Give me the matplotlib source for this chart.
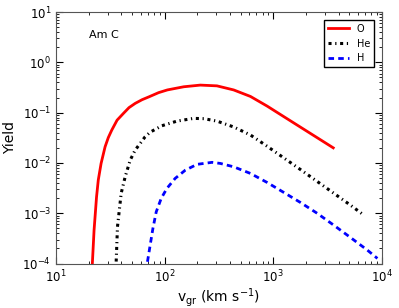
import matplotlib.pyplot as plt

# values (velocity in km/s, yield)
o_v = [21.6, 22.4, 23.6, 24.5, 26.0, 28.3, 30.3, 32.6, 36.5, 41.8, 47.0, 53.6, 62.0, 72.0, 88.0,
       106.0, 150.0, 213.0, 303.0, 432.0, 617.0, 879.0, 1250.0, 1782.0, 2540.0, 3570.0]
o_y = [1e-4, 4.6e-4, 2.1e-3, 4.6e-3, 9.8e-3, 0.021, 0.032, 0.045, 0.071, 0.097, 0.126, 0.153, 0.181, 0.207, 0.25,
       0.283, 0.327, 0.353, 0.341, 0.283, 0.21, 0.135, 0.0835, 0.0515, 0.0318, 0.02]

he_v = [35.8, 36.8, 39.8, 43.3, 48.2, 53.5, 59.6, 66.0, 73.6, 94.4, 130.0, 185.0, 230.0, 303.0,
        432.0, 617.0, 879.0, 1047.0, 1782.0, 2540.0, 3613.0, 5150.0, 6700.0]
he_y = [1.1e-4, 5.4e-4, 2.5e-3, 5.3e-3, 0.0114, 0.018, 0.0245, 0.033, 0.041, 0.055, 0.068, 0.077, 0.076, 0.068,
        0.052, 0.036, 0.0215, 0.0165, 0.0074, 0.0043, 0.0025, 0.00145, 0.00095]

h_v = [69.5, 73.6, 78.0, 83.7, 93.0, 105.0, 125.0, 155.0, 199.0, 273.0, 326.0, 432.0,
       617.0, 879.0, 1250.0, 1782.0, 2540.0, 3613.0, 5150.0, 7350.0, 9100.0]
h_y = [1.09e-4, 2.33e-4, 5.0e-4, 1.07e-3, 1.98e-3, 3.13e-3, 4.94e-3, 7.2e-3, 9.4e-3, 0.0103, 0.0098, 0.0084,
       6.2e-3, 4.1e-3, 2.6e-3, 1.64e-3, 1.0e-3, 5.8e-4, 3.3e-4, 1.86e-4, 1.27e-4]

fig = plt.figure(figsize=(3.99, 3.08), dpi=100)
ax = fig.add_axes([0.1404, 0.144, 0.8166, 0.817])

ax.plot(o_v, o_y, color='red', lw=2, label='O')
ax.plot(he_v, he_y, color='black', lw=2.2, dashes=(1, 1.2, 0.4, 1.2), label='He')
ax.plot(h_v, h_y, color='blue', lw=2, dashes=(2, 1.5), label='H')

ax.set_xscale('log')
ax.set_yscale('log')
ax.set_xlim(10, 1e4)
ax.set_ylim(1e-4, 10)

ax.tick_params(which='both', direction='in', top=True, right=True, labelsize=8.5)
ax.tick_params(which='major', length=5)
ax.tick_params(which='minor', length=2.5)
for s in ax.spines.values():
    s.set_color('#555555')

ax.set_ylabel('Yield', fontsize=10)
ax.set_xlabel(r'v$_{\rm gr}$ (km s$^{-1}$)', fontsize=10, labelpad=1)
ax.text(0.10, 0.93, 'Am C', transform=ax.transAxes, fontsize=8, va='top')

leg = ax.legend(loc='upper right', fontsize=7, fancybox=False, framealpha=1,
                handlelength=2.2, borderaxespad=0.8)
leg.get_frame().set_edgecolor('black')

fig.savefig('out.png', dpi=100)
